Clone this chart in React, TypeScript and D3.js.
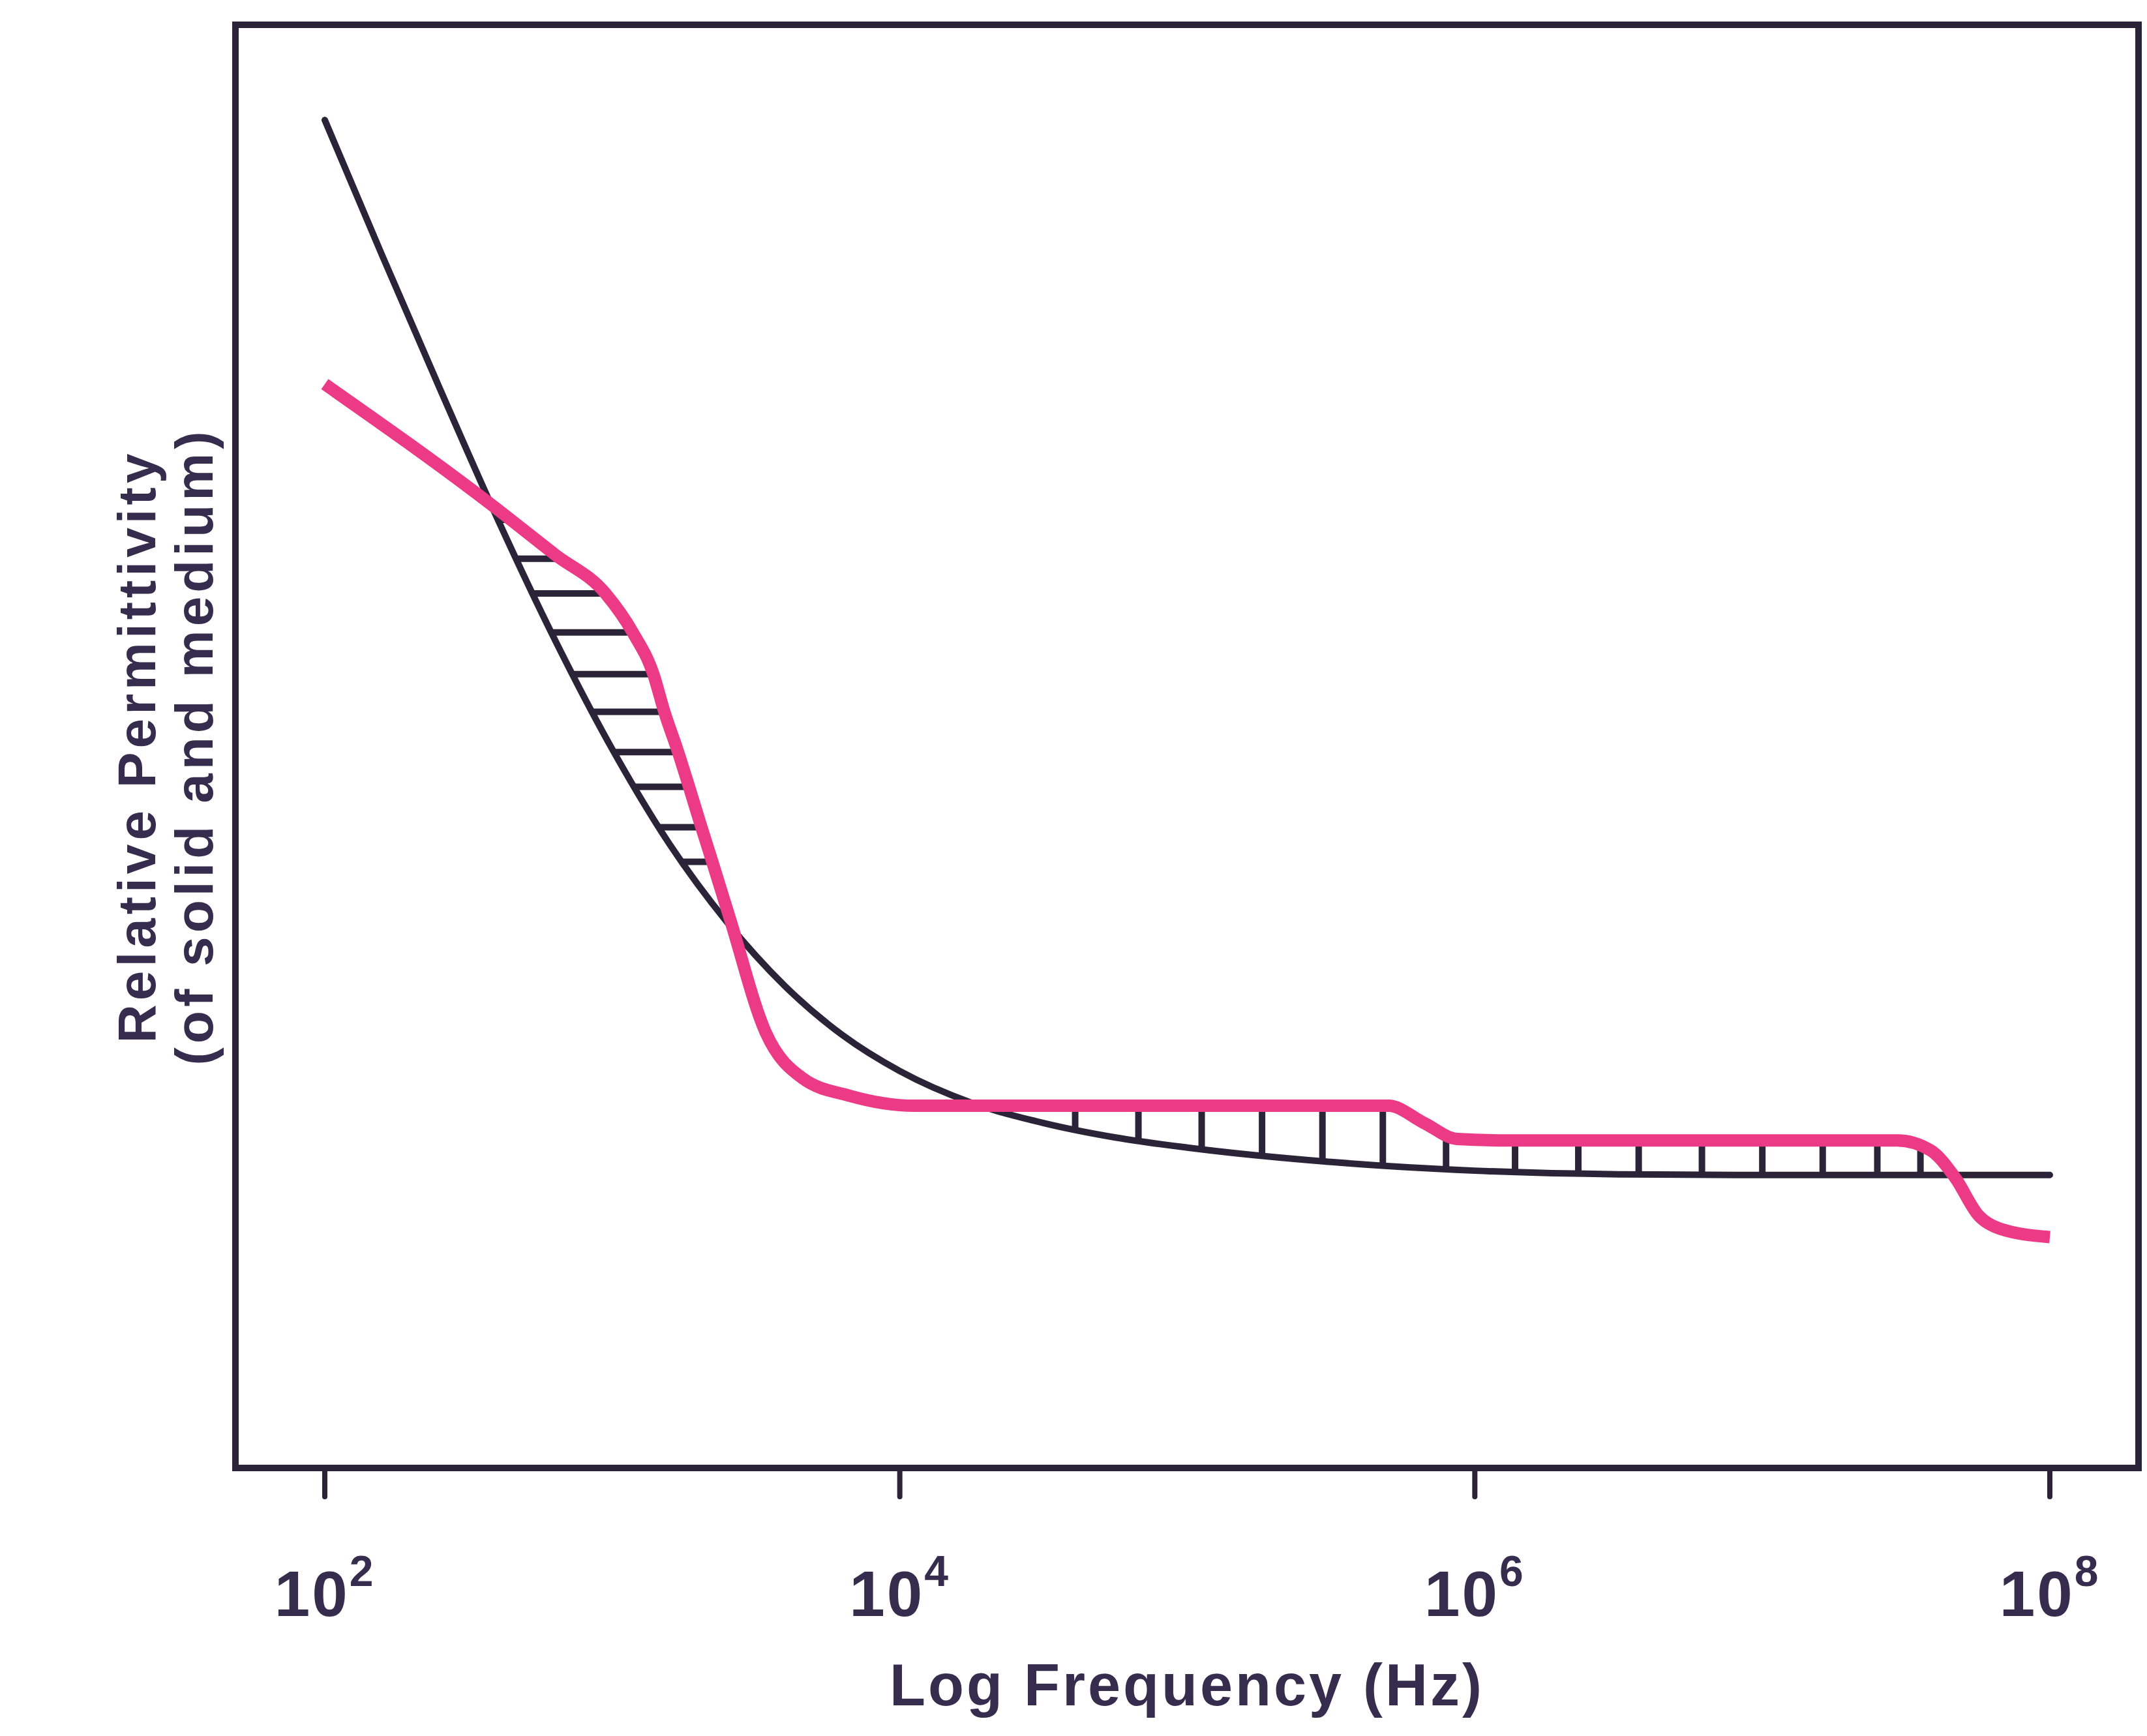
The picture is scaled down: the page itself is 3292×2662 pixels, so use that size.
import React, { useEffect, useRef } from 'react';
import * as d3 from 'd3';

// x values are log10(frequency in Hz), y values are relative permittivity in arbitrary units (0-100)
const blackLogF = [2.0, 2.2, 2.4, 2.6, 2.8, 3.0, 3.2, 3.4, 3.6, 3.8, 4.0, 4.25, 4.5, 4.75, 5.0, 5.5, 6.0, 6.5, 7.0, 8.0];
const blackEps = [93.4, 84.0, 74.8, 65.8, 57.4, 49.8, 43.2, 37.8, 33.4, 30.0, 27.5, 25.3, 23.9, 22.9, 22.2, 21.2, 20.6, 20.35, 20.3, 20.3];

const pinkLogF = [2.0, 2.576, 2.8, 2.976, 3.071, 3.143, 3.181, 3.229, 3.267, 3.31, 3.348, 3.41, 3.533, 3.662, 3.824, 4.05, 5.7, 5.824, 5.938, 6.11, 7.47, 7.586, 7.671, 7.752, 7.824, 8.0];
const pinkEps = [75.1, 66.8, 63.3, 60.6, 57.9, 55.0, 52.4, 49.6, 47.2, 44.4, 42.0, 38.0, 30.2, 27.0, 25.8, 25.1, 25.1, 23.9, 22.8, 22.7, 22.7, 22.0, 20.1, 17.5, 16.6, 16.0];

// shading between the curves
const hatchLevels = [65.7, 63.0, 60.6, 57.9, 55.0, 52.4, 49.6, 47.2, 44.4, 42.0];
const hatchLogF = [4.61, 4.83, 5.05, 5.26, 5.47, 5.68, 5.9, 6.14, 6.36, 6.57, 6.79, 7.0, 7.21, 7.4, 7.55];

const xTicks = [2, 4, 6, 8];

const DARK = '#2b2439';
const TEXT = '#352c4e';
const PINK = '#ec3a86';
const FONT = '"Liberation Sans", Arial, sans-serif';

// find the log f where a curve crosses a given level (first crossing below maxLogF)
const crossAt = (xs: number[], ys: number[], level: number, maxLogF: number) => {
  for (let i = 0; i < xs.length - 1; i++) {
    if (xs[i] > maxLogF) break;
    const a = ys[i], b = ys[i + 1];
    if ((a - level) * (b - level) <= 0 && a !== b) {
      return xs[i] + (level - a) / (b - a) * (xs[i + 1] - xs[i]);
    }
  }
  return xs[0];
};

const Chart = () => {
  const svgRef = useRef<SVGSVGElement>(null);

  useEffect(() => {
    const W = 3292, H = 2662;
    const frame = { left: 361, top: 38, right: 3279, bottom: 2251 };

    const svg = d3.select(svgRef.current)
      .attr('width', W)
      .attr('height', H);
    svg.selectAll('*').remove();

    svg.append('rect')
      .attr('width', W).attr('height', H)
      .attr('fill', '#ffffff');

    const x = d3.scaleLinear().domain([2, 8]).range([498, 3143]);
    const y = d3.scaleLinear().domain([0, 100]).range([frame.bottom, frame.top]);

    const blackAt = d3.scaleLinear().domain(blackLogF).range(blackEps);
    const pinkAt = d3.scaleLinear().domain(pinkLogF).range(pinkEps);

    // frame
    svg.append('rect')
      .attr('x', frame.left).attr('y', frame.top)
      .attr('width', frame.right - frame.left)
      .attr('height', frame.bottom - frame.top)
      .attr('fill', 'none')
      .attr('stroke', DARK)
      .attr('stroke-width', 10);

    // x ticks + labels
    const ticks = svg.append('g');
    ticks.selectAll('line')
      .data(xTicks)
      .enter().append('line')
      .attr('x1', d => x(d)).attr('x2', d => x(d))
      .attr('y1', frame.bottom).attr('y2', frame.bottom + 44)
      .attr('stroke', DARK)
      .attr('stroke-width', 8)
      .attr('stroke-linecap', 'round');

    const labels = ticks.selectAll('text')
      .data(xTicks)
      .enter().append('text')
      .attr('x', d => x(d))
      .attr('y', 2478)
      .attr('text-anchor', 'middle')
      .attr('font-family', FONT)
      .attr('font-weight', 'bold')
      .attr('font-size', 98)
      .attr('fill', TEXT)
      .attr('letter-spacing', 3);
    labels.append('tspan').text('10');
    labels.append('tspan')
      .attr('dy', -46)
      .attr('font-size', 66)
      .text(d => String(d));

    // axis titles
    svg.append('text')
      .attr('x', (frame.left + frame.right) / 2)
      .attr('y', 2615)
      .attr('text-anchor', 'middle')
      .attr('font-family', FONT)
      .attr('font-weight', 'bold')
      .attr('font-size', 90)
      .attr('letter-spacing', 4)
      .attr('fill', TEXT)
      .text('Log Frequency (Hz)');

    const yMid = (frame.top + frame.bottom) / 2;
    [['Relative Permittivity', 238], ['(of solid and medium)', 326]].forEach(([t, bx]) => {
      svg.append('text')
        .attr('transform', `translate(${bx},${yMid}) rotate(-90)`)
        .attr('text-anchor', 'middle')
        .attr('font-family', FONT)
        .attr('font-weight', 'bold')
        .attr('font-size', 82)
        .attr('letter-spacing', 6)
        .attr('fill', TEXT)
        .text(t as string);
    });

    const plot = svg.append('g');

    // horizontal hatching (pink above black)
    plot.selectAll('.hh')
      .data(hatchLevels)
      .enter().append('line')
      .attr('class', 'hh')
      .attr('x1', d => x(crossAt(blackLogF, blackEps, d, 3.6)))
      .attr('x2', d => x(crossAt(pinkLogF, pinkEps, d, 3.6)))
      .attr('y1', d => y(d)).attr('y2', d => y(d))
      .attr('stroke', DARK)
      .attr('stroke-width', 10);

    // vertical hatching
    plot.selectAll('.vh')
      .data(hatchLogF)
      .enter().append('line')
      .attr('class', 'vh')
      .attr('x1', d => x(d)).attr('x2', d => x(d))
      .attr('y1', d => y(blackAt(d)))
      .attr('y2', d => y(pinkAt(d)))
      .attr('stroke', DARK)
      .attr('stroke-width', 10);

    const line = d3.line<[number, number]>()
      .x(d => x(d[0]))
      .y(d => y(d[1]))
      .curve(d3.curveMonotoneX);

    plot.append('path')
      .datum(blackLogF.map((f, i) => [f, blackEps[i]] as [number, number]))
      .attr('d', line)
      .attr('fill', 'none')
      .attr('stroke', DARK)
      .attr('stroke-width', 10)
      .attr('stroke-linecap', 'round');

    plot.append('path')
      .datum(pinkLogF.map((f, i) => [f, pinkEps[i]] as [number, number]))
      .attr('d', line)
      .attr('fill', 'none')
      .attr('stroke', PINK)
      .attr('stroke-width', 19)
      .attr('stroke-linejoin', 'round');
  }, []);

  return <svg ref={svgRef} style={{ position: 'absolute', left: 0, top: 0 }}></svg>;
};

export default function App() {
  return <Chart />;
}
